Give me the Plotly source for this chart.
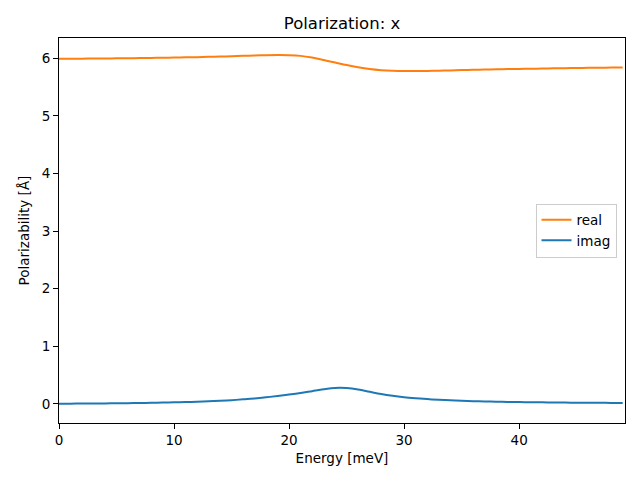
import plotly.graph_objects as go

energy = list(range(0, 50))
real_vals = [5.990, 5.991, 5.992, 5.993, 5.995, 5.997, 5.999, 6.001, 6.004, 6.007,
             6.010, 6.014, 6.018, 6.023, 6.028, 6.034, 6.040, 6.046, 6.051, 6.054,
             6.052, 6.040, 6.010, 5.968, 5.924, 5.880, 5.842, 5.812, 5.792, 5.781,
             5.776, 5.776, 5.779, 5.783, 5.788, 5.793, 5.798, 5.802, 5.806, 5.810,
             5.814, 5.817, 5.820, 5.823, 5.826, 5.829, 5.832, 5.834, 5.837, 5.839]
imag_vals = [0.005, 0.006, 0.007, 0.008, 0.010, 0.012, 0.014, 0.017, 0.020, 0.024,
             0.028, 0.033, 0.039, 0.046, 0.055, 0.066, 0.080, 0.096, 0.116, 0.139,
             0.163, 0.190, 0.222, 0.254, 0.278, 0.276, 0.252, 0.212, 0.173, 0.142,
             0.118, 0.100, 0.085, 0.073, 0.063, 0.055, 0.049, 0.044, 0.040, 0.036,
             0.033, 0.030, 0.028, 0.026, 0.024, 0.022, 0.021, 0.020, 0.019, 0.018]

x_ticks = [0, 10, 20, 30, 40]
y_ticks = [0, 1, 2, 3, 4, 5, 6]

fig = go.Figure()
fig.add_trace(go.Scatter(x=energy, y=real_vals, mode="lines", name="real",
                         line=dict(color="#ff7f0e", width=2, shape="spline", smoothing=1.0)))
fig.add_trace(go.Scatter(x=energy, y=imag_vals, mode="lines", name="imag",
                         line=dict(color="#1f77b4", width=2, shape="spline", smoothing=1.0)))

axis_common = dict(showgrid=False, zeroline=False, showline=True, linecolor="black", linewidth=1,
                   mirror=True, ticks="outside", ticklen=5, tickwidth=1, tickcolor="black",
                   automargin=False, tickfont=dict(size=13.5, color="black"))

fig.update_layout(
    width=640, height=480,
    margin=dict(l=59, r=15, t=38, b=57, autoexpand=False),
    paper_bgcolor="white", plot_bgcolor="white",
    font=dict(family="DejaVu Sans", size=13.5, color="black"),
    title=dict(text="Polarization: x", x=(59 + 566 / 2) / 640, xanchor="center",
               y=1 - 23 / 480, yanchor="middle", yref="container", font=dict(size=16.5)),
    xaxis=dict(range=[0, 49.2], tickvals=x_ticks,
               title=dict(text="Energy [meV]", standoff=6, font=dict(size=13.5)), **axis_common),
    yaxis=dict(range=[-0.33, 6.35], tickvals=y_ticks,
               title=dict(text="Polarizability [Å]", standoff=8, font=dict(size=13.5)), **axis_common),
    legend=dict(x=0.985, y=0.5, xanchor="right", yanchor="middle", bgcolor="white",
                bordercolor="#cccccc", borderwidth=1, font=dict(size=13.5)),
)

fig.write_html("out.html", config={"displayModeBar": False},
               post_script="document.body.style.margin='0';document.body.style.padding='0';")
